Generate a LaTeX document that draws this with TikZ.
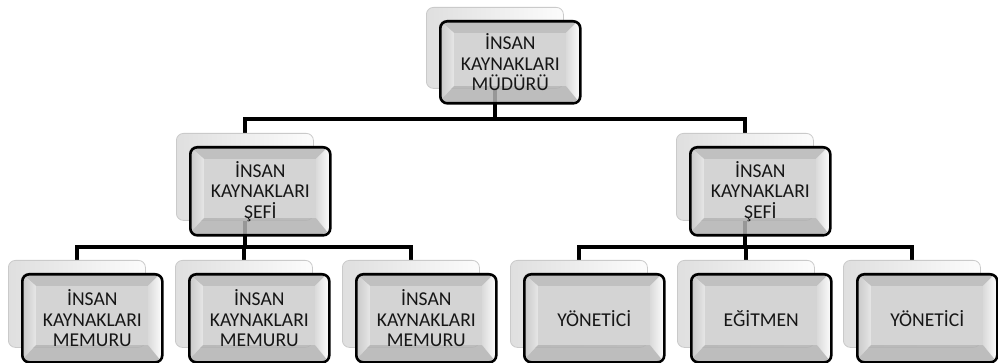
\documentclass[tikz,border=0pt]{standalone}
\usepackage{fontspec}
\setmainfont{Carlito}
\usetikzlibrary{calc}
\pgfdeclarelayer{background}
\pgfsetlayers{background,main}

\definecolor{ink}{HTML}{161616}
\definecolor{face}{HTML}{D4D4D4}
\definecolor{bevtop}{HTML}{C0C0C0}
\definecolor{bevbot}{HTML}{B2B2B2}
\definecolor{bevlA}{HTML}{C6C6C6}
\definecolor{bevlB}{HTML}{E6E6E6}
\definecolor{bevrA}{HTML}{DADADA}
\definecolor{bevrB}{HTML}{FAFAFA}
\definecolor{cardL}{HTML}{DFDFDF}
\definecolor{cardR}{HTML}{FCFCFC}
\definecolor{cardedge}{HTML}{CACACA}

\tikzset{
  conn/.style={line width=4pt, draw=black},
  backcard/.style={draw=cardedge, line width=0.8pt, rounded corners=7pt,
    left color=cardL, right color=cardR, minimum width=137pt, inner sep=0pt},
  frontcard/.style={draw=black, line width=2.6pt, rounded corners=7pt,
    minimum width=140pt, inner sep=0pt, align=center, text=ink,
    font=\fontsize{19.6}{20.5}\selectfont},
}

% one chart unit: a pale card behind and a bevelled card with the title in front
% #1 name, #2 left, #3 top of the rear card, #4 card height, #5 title
\newcommand\orgunit[5]{%
  \node[backcard, minimum height=#4pt, anchor=north west] (#1-back) at (#2,#3) {};
  \begin{scope}[shift={(#2+13,#3+13)}]
    \begin{scope}
      \clip[rounded corners=7pt] (0,0) rectangle (140,#4+1);
      \fill[bevtop] (0,0) -- (140,0) -- (127,13) -- (15,13) -- cycle;
      \shade[left color=bevlA, right color=bevlB]
        (0,0) -- (15,13) -- (15,#4-15) -- (0,#4+1) -- cycle;
      \shade[left color=bevrA, right color=bevrB]
        (140,0) -- (127,13) -- (127,#4-15) -- (140,#4+1) -- cycle;
      \fill[bevbot, fill opacity=0.85]
        (0,#4+1) -- (15,#4-15) -- (127,#4-15) -- (140,#4+1) -- cycle;
      \fill[face] (15,13) rectangle (127,#4-15);
    \end{scope}
    \node[frontcard, minimum height=#4pt+1pt, anchor=north west] (#1) at (0,0) {#5};
  \end{scope}
}

\begin{document}
\begin{tikzpicture}[x=1pt, y=-1pt]
  \useasboundingbox (0,0) rectangle (998,363);

  \orgunit{mgr}{426}{7}{81}{İNSAN\\KAYNAKLARI\\MÜDÜRÜ}

  \orgunit{chiefA}{176}{133}{87}{İNSAN\\KAYNAKLARI\\ŞEFİ}
  \orgunit{chiefB}{676}{133}{87}{İNSAN\\KAYNAKLARI\\ŞEFİ}

  \orgunit{clerkA}{8}{260}{87}{İNSAN\\KAYNAKLARI\\MEMURU}
  \orgunit{clerkB}{175}{260}{87}{İNSAN\\KAYNAKLARI\\MEMURU}
  \orgunit{clerkC}{342}{260}{87}{İNSAN\\KAYNAKLARI\\MEMURU}
  \orgunit{execA}{510}{260}{87}{YÖNETİCİ}
  \orgunit{trainer}{677}{260}{87}{EĞİTMEN}
  \orgunit{execB}{843}{260}{87}{YÖNETİCİ}

  \coordinate (busTop) at (0,119);
  \coordinate (busLow) at (0,247);

  \begin{pgfonlayer}{background}
    % manager to the two chiefs
    \draw[conn] (mgr-back.center) -- (mgr-back.center |- busTop);
    \draw[conn] (chiefA-back.center) -- (chiefA-back.center |- busTop)
      -- (chiefB-back.center |- busTop) -- (chiefB-back.center);
    % first chief to the clerks
    \draw[conn] (chiefA-back.center) -- (chiefA-back.center |- busLow);
    \draw[conn] (clerkA-back.center) -- (clerkA-back.center |- busLow)
      -- (clerkC-back.center |- busLow) -- (clerkC-back.center);
    \draw[conn] (clerkB-back.center) -- (clerkB-back.center |- busLow);
    % second chief to its staff
    \draw[conn] (chiefB-back.center) -- (chiefB-back.center |- busLow);
    \draw[conn] (execA-back.center) -- (execA-back.center |- busLow)
      -- (execB-back.center |- busLow) -- (execB-back.center);
    \draw[conn] (trainer-back.center) -- (trainer-back.center |- busLow);
  \end{pgfonlayer}
\end{tikzpicture}
\end{document}
